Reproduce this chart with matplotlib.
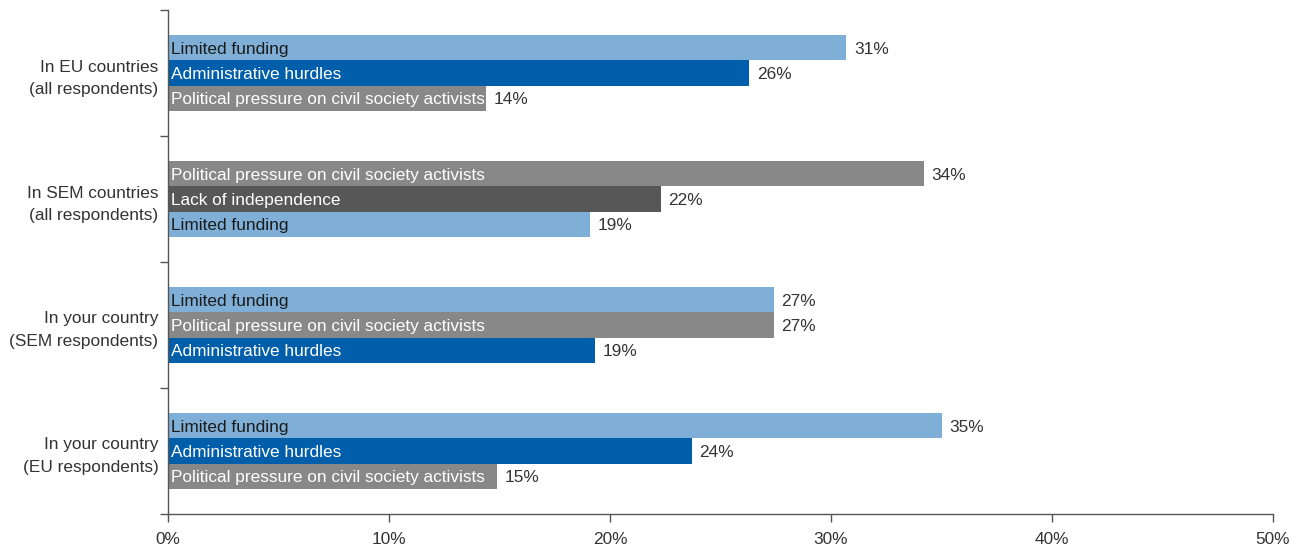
import matplotlib
matplotlib.use("Agg")
import matplotlib.pyplot as plt

plt.rcParams['font.family'] = ['Liberation Sans', 'DejaVu Sans']

groups = ["In EU countries\n(all respondents)",
          "In SEM countries\n(all respondents)",
          "In your country\n(SEM respondents)",
          "In your country\n(EU respondents)"]

bar_names = [
    ["Limited funding", "Administrative hurdles", "Political pressure on civil society activists"],
    ["Political pressure on civil society activists", "Lack of independence", "Limited funding"],
    ["Limited funding", "Political pressure on civil society activists", "Administrative hurdles"],
    ["Limited funding", "Administrative hurdles", "Political pressure on civil society activists"],
]

bar_values = [
    [30.7, 26.3, 14.4],
    [34.2, 22.3, 19.1],
    [27.4, 27.4, 19.3],
    [35.0, 23.7, 14.9],
]

#colour per reason
colors = {
    "Limited funding": "#7fafd6",
    "Administrative hurdles": "#005eaa",
    "Political pressure on civil society activists": "#888888",
    "Lack of independence": "#575757",
}
text_colors = {
    "Limited funding": "#1a1a1a",
    "Administrative hurdles": "white",
    "Political pressure on civil society activists": "white",
    "Lack of independence": "white",
}

fs = 12.4

fig = plt.figure(figsize=(12.97, 5.48), dpi=100)
ax = fig.add_axes([168/1297, 1 - 514/548, (1273-168)/1297, (514-10)/548])

bar_h = 0.2
for g in range(len(groups)):
    for i in range(3):
        name = bar_names[g][i]
        val = bar_values[g][i]
        y = g + 0.5 + (i - 1) * bar_h
        ax.barh(y, val, height=bar_h, color=colors[name], linewidth=0)
        ax.text(0.15, y + 0.01, name, va="center", ha="left", fontsize=fs,
                color=text_colors[name])
        ax.text(val + 0.35, y + 0.01, f"{round(val)}%", va="center", ha="left",
                fontsize=fs, color="#333333")

ax.set_xlim(0, 50)
ax.set_ylim(4, 0)
ax.set_xticks(range(0, 51, 10))
ax.set_xticklabels([f"{x}%" for x in range(0, 51, 10)], fontsize=fs, color="#333333")
ax.set_yticks([0, 1, 2, 3, 4])
ax.set_yticklabels([])
ax.set_yticks([0.5, 1.5, 2.5, 3.5], minor=True)
ax.set_yticklabels(groups, minor=True, fontsize=fs, color="#333333", ha="right",
                   linespacing=1.6)
ax.tick_params(axis="y", which="minor", length=0, pad=7)
ax.tick_params(axis="both", which="major", length=6, width=1, color="#555555")
ax.tick_params(axis="x", pad=7)

for s in ["top", "right"]:
    ax.spines[s].set_visible(False)
for s in ["left", "bottom"]:
    ax.spines[s].set_color("#555555")
    ax.spines[s].set_linewidth(1)

fig.savefig("out.png", dpi=100)
